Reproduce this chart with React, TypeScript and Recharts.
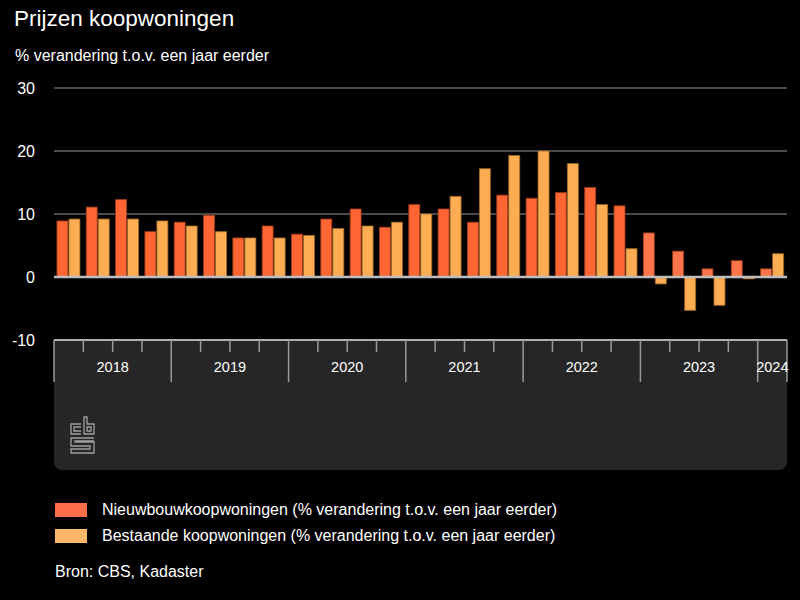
import React from "react";
import { BarChart, Bar, XAxis, YAxis, CartesianGrid, ReferenceLine, Cell } from "recharts";

const years = ["2018", "2019", "2020", "2021", "2022", "2023", "2024"];
const periods = [
  "2018 K1", "2018 K2", "2018 K3", "2018 K4",
  "2019 K1", "2019 K2", "2019 K3", "2019 K4",
  "2020 K1", "2020 K2", "2020 K3", "2020 K4",
  "2021 K1", "2021 K2", "2021 K3", "2021 K4",
  "2022 K1", "2022 K2", "2022 K3", "2022 K4",
  "2023 K1", "2023 K2", "2023 K3", "2023 K4",
  "2024 K1",
];
const nieuwbouw = [
  8.9, 11.1, 12.3, 7.2,
  8.7, 9.8, 6.2, 8.1,
  6.8, 9.2, 10.8, 7.9,
  11.5, 10.8, 8.7, 13.0,
  12.5, 13.4, 14.2, 11.3,
  7.0, 4.1, 1.3, 2.6,
  1.3,
];
const bestaand = [
  9.2, 9.2, 9.2, 8.9,
  8.1, 7.2, 6.2, 6.2,
  6.6, 7.7, 8.1, 8.7,
  10.0, 12.8, 17.2, 19.3,
  20.0, 18.0, 11.5, 4.5,
  -1.1, -5.3, -4.5, -0.3,
  3.7,
];
const yTicks = [30, 20, 10, 0, -10];

const data = periods.map((p, i) => ({
  period: p,
  nieuw: nieuwbouw[i],
  bestaand: bestaand[i],
}));

const W = 800;
const H = 600;
const LEFT = 54;
const RIGHT = 13;
const TOP = 88;
const AXIS_TOP = 340;
const BAND_H = 130;
const PLOT_W = W - LEFT - RIGHT;
const BW = PLOT_W / periods.length;

const FONT = "'Liberation Sans', Arial, Helvetica, sans-serif";
const C_N = "#ff6633";
const C_N2 = "#ff7448";
const C_B = "#ffad52";

const XTick = (props: any) => {
  const { x, y, index } = props;
  const left = x - BW / 2;
  const q = index % 4;
  const year = years[Math.floor(index / 4)];
  const quartersInYear = Math.min(4, periods.length - Math.floor(index / 4) * 4);
  const items: any[] = [];
  items.push(
    <line key="t" x1={left} x2={left} y1={y} y2={y + (q === 0 ? 42 : 12)} stroke="#9a9a9a" strokeWidth={1.5} />
  );
  if (index === periods.length - 1) {
    items.push(
      <line key="e" x1={left + BW} x2={left + BW} y1={y} y2={y + 42} stroke="#9a9a9a" strokeWidth={1.5} />
    );
  }
  if (q === 0) {
    const cx = left + (quartersInYear * BW) / 2;
    items.push(
      <text key="l" x={cx} y={y + 32} textAnchor="middle" fill="#ffffff" fontSize={14.5} fontFamily={FONT}>
        {year}
      </text>
    );
  }
  return <g>{items}</g>;
};

const YTick = (props: any) => {
  const { y, payload } = props;
  return (
    <text x={35} y={y + 5.5} textAnchor="end" fill="#ffffff" fontSize={16} fontFamily={FONT}>
      {payload.value}
    </text>
  );
};

const Logo = () => (
  <svg width={28} height={40} style={{ position: "absolute", left: 69, top: 415 }} viewBox="0 0 28 40">
    <g fill="none" stroke="#a0a0a0" strokeWidth={1.3}>
      <path d="M12 9 H2 V19 H12 M12 12 H5 V16 H12" />
      <path d="M15 2 V19 H25 V9 H18 V2 Z M18 12 H22 V16 H18 Z" />
      <path d="M25 23 H2 V31 H21 V34 H2 V38 H25 V27 H6 V26 H25" />
    </g>
  </svg>
);

export default function App() {
  return (
    <div
      style={{
        position: "absolute",
        left: 0,
        top: 0,
        width: W,
        height: H,
        background: "#000",
        fontFamily: FONT,
        overflow: "hidden",
      }}
    >
      <div
        style={{
          position: "absolute",
          left: LEFT,
          top: AXIS_TOP,
          width: PLOT_W,
          height: BAND_H,
          background: "#262626",
          borderRadius: "0 0 8px 8px",
        }}
      />
      <Logo />
      <div style={{ position: "absolute", left: 14, top: 6, color: "#fff", fontSize: 22.5 }}>Prijzen koopwoningen</div>
      <div style={{ position: "absolute", left: 15, top: 47, color: "#fff", fontSize: 16 }}>
        % verandering t.o.v. een jaar eerder
      </div>
      <div style={{ position: "absolute", left: 0, top: 0 }}>
        <BarChart
          width={W}
          height={H}
          data={data}
          margin={{ top: TOP, right: RIGHT, left: 0, bottom: H - AXIS_TOP - BAND_H }}
          barCategoryGap="10%"
          barGap={1}
        >
          <CartesianGrid vertical={false} stroke="#4a4a4a" strokeWidth={2} />
          <YAxis
            width={LEFT}
            domain={[-10, 30]}
            ticks={yTicks}
            axisLine={false}
            tickLine={false}
            tick={<YTick />}
            interval={0}
          />
          <XAxis
            dataKey="period"
            height={BAND_H}
            axisLine={false}
            tickLine={false}
            tickSize={0}
            tickMargin={0}
            interval={0}
            tick={<XTick />}
          />
          <ReferenceLine y={-10} stroke="#b0b0b0" strokeWidth={2} />
          <Bar dataKey="nieuw" fill={C_N} stroke="#9c3a1a" strokeWidth={0.8} isAnimationActive={false}>
            {data.map((d, i) => (
              <Cell key={i} fill={i >= 20 ? C_N2 : C_N} />
            ))}
          </Bar>
          <Bar dataKey="bestaand" fill={C_B} stroke="#9c6a2a" strokeWidth={0.8} isAnimationActive={false} />
          <ReferenceLine y={0} stroke="#bdbdbd" strokeWidth={2.5} />
        </BarChart>
      </div>
      <div style={{ position: "absolute", left: 55, top: 503, width: 32, height: 14, background: "#ff6f4a" }} />
      <div style={{ position: "absolute", left: 55, top: 529, width: 32, height: 14, background: "#ffb86a" }} />
      <div style={{ position: "absolute", left: 102, top: 501, color: "#fff", fontSize: 16 }}>
        Nieuwbouwkoopwoningen (% verandering t.o.v. een jaar eerder)
      </div>
      <div style={{ position: "absolute", left: 102, top: 527, color: "#fff", fontSize: 16 }}>
        Bestaande koopwoningen (% verandering t.o.v. een jaar eerder)
      </div>
      <div style={{ position: "absolute", left: 55, top: 563, color: "#fff", fontSize: 16 }}>Bron: CBS, Kadaster</div>
    </div>
  );
}
